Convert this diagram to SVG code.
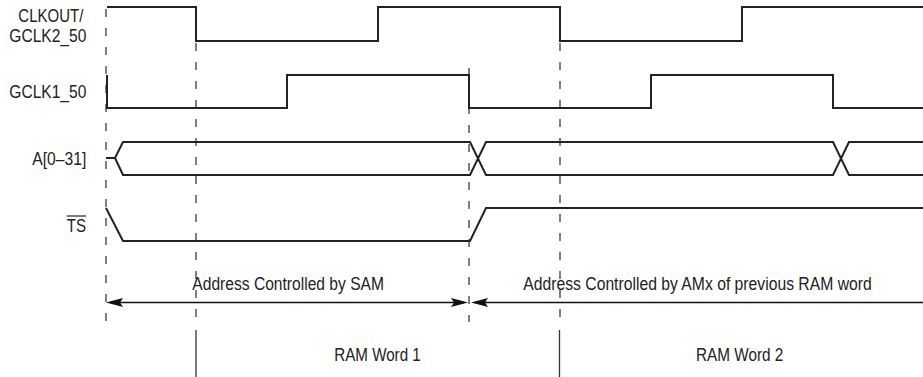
<svg xmlns="http://www.w3.org/2000/svg" width="923" height="377" viewBox="0 0 923 377">
<style>
.sig{fill:none;stroke:#222;stroke-width:2;stroke-linejoin:miter}
.dash{fill:none;stroke:#555;stroke-width:1.5;stroke-dasharray:8 11}
.solid{fill:none;stroke:#333;stroke-width:1.3}
.arr{fill:none;stroke:#111;stroke-width:1.3}
.head{fill:#111;stroke:none}
text{font-family:"Liberation Sans",Arial,Helvetica,sans-serif;font-size:18px;fill:#222}
</style>
<rect width="923" height="377" fill="#fff"/>
<g id="guides">
<line class="dash" x1="106" y1="9" x2="106" y2="322"/>
<line class="dash" x1="196" y1="43" x2="196" y2="322"/>
<line class="dash" x1="469" y1="68" x2="469" y2="322"/>
<line class="dash" x1="560" y1="43" x2="560" y2="322"/>
<line class="solid" x1="196" y1="330" x2="196" y2="377"/>
<line class="solid" x1="559.5" y1="330" x2="559.5" y2="377"/>
</g>
<g id="labels">
<text x="18.3" y="21.5" textLength="65" lengthAdjust="spacingAndGlyphs">CLKOUT/</text>
<text x="9.3" y="41.8" textLength="77" lengthAdjust="spacingAndGlyphs">GCLK2_50</text>
<text x="9.3" y="97.8" textLength="77" lengthAdjust="spacingAndGlyphs">GCLK1_50</text>
<text x="32.3" y="164.8" textLength="54" lengthAdjust="spacingAndGlyphs">A[0–31]</text>
<text x="66.7" y="231.8" textLength="19.3" lengthAdjust="spacingAndGlyphs">TS</text>
<line x1="66.7" y1="216" x2="86" y2="216" stroke="#222" stroke-width="1.2"/>
</g>
<g id="clkout">
<path class="sig" d="M107,7 H196 V41 H378 V7 H560 V41 H742 V7 H923"/>
</g>
<g id="gclk1">
<path class="sig" d="M107,75 V108 H287 V75 H469 V108 H651 V75 H833 V108 H923"/>
</g>
<g id="addr">
<path class="sig" d="M106,158 H115 L123,142 H470 L486,175 H833 L849,142 H923"/>
<path class="sig" d="M115,158 L123,175 H470 L486,142 H833 L849,175 H923"/>
</g>
<g id="ts">
<path class="sig" d="M106,208 L123,241 H470 L486,208 H923"/>
</g>
<g id="connectors">
<line class="arr" x1="110" y1="302.5" x2="464" y2="302.5"/>
<polygon class="head" points="106,302.5 123,298 120,302.5 123,307"/>
<polygon class="head" points="468,302.5 451,298 454,302.5 451,307"/>
<line class="arr" x1="475" y1="302.5" x2="923" y2="302.5"/>
<polygon class="head" points="471,302.5 488,298 485,302.5 488,307"/>
</g>
<g id="annotations">
<text x="192.3" y="289.5" textLength="191.7" lengthAdjust="spacingAndGlyphs">Address Controlled by SAM</text>
<text x="523.3" y="289.5" textLength="348.4" lengthAdjust="spacingAndGlyphs">Address Controlled by AMx of previous RAM word</text>
<text x="334.3" y="361" textLength="86.4" lengthAdjust="spacingAndGlyphs">RAM Word 1</text>
<text x="696" y="361" textLength="87.3" lengthAdjust="spacingAndGlyphs">RAM Word 2</text>
</g>
</svg>
